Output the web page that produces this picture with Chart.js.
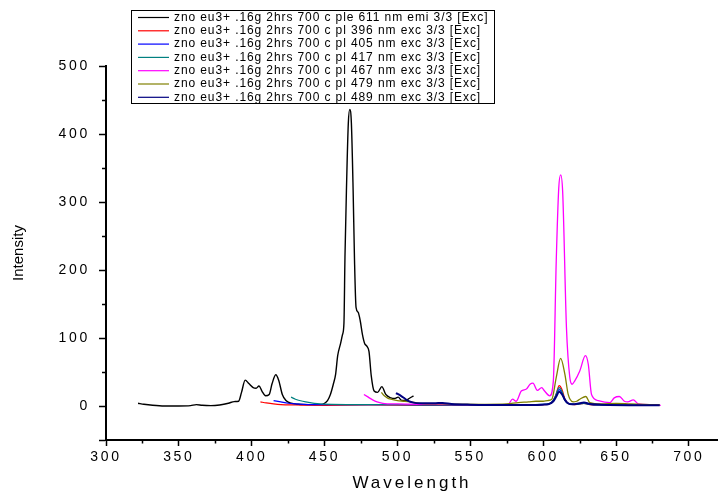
<!DOCTYPE html>
<html>
<head>
<meta charset="utf-8">
<title>Espectros ZnO:Eu3+</title>
<script src="https://cdn.jsdelivr.net/npm/chart.js@4.4.1/dist/chart.umd.min.js"></script>
<style>
  body { margin: 0; background: #ffffff; }
  canvas { display: block; }
</style>
</head>
<body>
<canvas id="espectrosChart" width="718" height="498"></canvas>
<script>
// Emisión monitoreada a 611 nm
const onda611 = [322, 326, 332, 340, 350, 358, 362, 366, 372, 378, 384, 388, 391, 393, 395.5, 398, 401, 403, 405, 407,
    409.5, 412, 414, 416.5, 418.5, 421, 423.5, 427, 432, 440, 447, 450, 452, 454, 456, 457.6, 459, 461, 462.3, 463.3,
    464, 465, 466.3, 467.3, 468.4, 469.6, 470.5, 471.6, 473, 474.5, 476, 477.5, 479, 480.5, 482, 484, 486.4, 489.3, 492, 495.5,
    498, 500.5, 503, 505.5, 508, 511];
const inten611 = [4, 2.5, 1, 0, 0, 0.5, 2, 1, 0.5, 1.5, 4, 6.5, 7, 20, 38, 33, 27, 26, 29.5, 22,
    15, 17, 33, 46, 38, 17, 8, 4, 2.5, 2, 2, 4, 8, 17, 32, 47, 74, 92, 105, 122,
    219, 317, 416, 436, 416, 317, 219, 145, 138, 125, 105, 92, 88, 80, 45, 22, 20, 28.5, 17, 12,
    11, 13, 8, 8, 11, 15];

// Excitación a 396 nm
const onda396 = [406, 410, 415, 420, 430, 450, 480, 520, 560, 590, 600, 604, 607, 609, 611, 613, 615, 618, 622, 628, 632, 645, 660, 680];
const inten396 = [6, 4.5, 3, 2, 1.5, 1, 1.5, 1, 1, 1.5, 2, 3, 8, 18, 30, 24, 10, 3, 2, 4, 2, 1.5, 1.5, 1];

// Excitación a 405 nm
const onda405 = [415, 420, 425, 430, 440, 460, 500, 540, 580, 600, 605, 608, 611, 613, 615, 618, 622, 628, 632, 650, 680];
const inten405 = [8, 6, 4, 3, 2, 2, 2, 1.5, 1.5, 2.5, 4, 12, 24, 19, 8, 3, 2.5, 4.5, 2.5, 1.5, 1];

// Excitación a 417 nm
const onda417 = [427, 430, 435, 440, 445, 455, 500, 540, 580, 600, 605, 608, 611, 613, 615, 618, 622, 628, 632, 650, 680];
const inten417 = [13, 10, 7, 5, 3.5, 2.5, 2, 1.5, 1.5, 2.5, 4, 12, 27, 21, 8, 3, 2.5, 4, 2.5, 1.5, 1];

// Excitación a 467 nm
const onda467 = [477, 480, 483, 486, 490, 500, 520, 550, 570, 576, 579, 581.5, 585, 588.5, 591, 593, 596, 599, 601, 604.5,
    607, 609, 610.7, 612, 613.4, 616, 618.3, 619.9, 621.7, 625.2, 629, 631, 633.2, 637.8, 645.8, 648.8, 652.3, 655.7, 658, 661.9,
    665.3, 674.5, 680.7];
const inten467 = [17, 13, 9, 6, 4, 3, 2.5, 2, 2, 2.5, 10, 7, 22, 25, 32, 33.5, 23, 27, 22, 15,
    37, 214, 320, 340, 315, 115, 42, 32, 37, 52, 74, 61, 17, 8, 5, 12, 14, 7, 6, 9,
    3, 2, 1];

// Excitación a 479 nm
const onda479 = [489, 491, 493, 495.5, 500, 505, 509, 515, 530, 560, 575, 583, 590, 595, 600, 603, 606, 609, 612, 614.9,
    617.2, 620.6, 623, 625.2, 629.3, 632, 640, 650, 660, 680];
const inten479 = [20, 15, 12, 10, 8, 7, 6, 4, 3, 2.5, 3, 5, 6, 7, 7, 8, 10, 42, 70, 47,
    17, 6, 7, 10, 14, 5, 3, 4, 3, 1.5];

// Excitación a 489 nm
const onda489 = [499, 502.4, 505, 507, 511, 515, 525, 531, 537, 550, 580, 600, 604, 607, 609, 611, 613, 615, 617, 620, 625, 628, 632, 640, 680];
const inten489 = [19, 15, 11, 8, 5, 4, 4, 4.5, 3, 2, 1.5, 2, 3, 7, 14, 21, 17, 9, 4, 2.5, 4, 5, 3, 2, 1];

const etiquetas = [
    'zno eu3+ .16g 2hrs 700 c ple 611 nm emi 3/3 [Exc]',
    'zno eu3+ .16g 2hrs 700 c pl 396 nm exc 3/3 [Exc]',
    'zno eu3+ .16g 2hrs 700 c pl 405 nm exc 3/3 [Exc]',
    'zno eu3+ .16g 2hrs 700 c pl 417 nm exc 3/3 [Exc]',
    'zno eu3+ .16g 2hrs 700 c pl 467 nm exc 3/3 [Exc]',
    'zno eu3+ .16g 2hrs 700 c pl 479 nm exc 3/3 [Exc]',
    'zno eu3+ .16g 2hrs 700 c pl 489 nm exc 3/3 [Exc]'
];

const colores = [
    '#000000',  // 611 emi
    '#FF0000',  // 396
    '#0000FF',  // 405
    '#008080',  // 417
    '#FF00FF',  // 467
    '#808000',  // 479
    '#000080'   // 489
];

const grosores = [1.4, 1.2, 1.2, 1.2, 1.3, 1.3, 2];

const fuente = 'Arial, "Liberation Sans", sans-serif';

const series = [
    [onda611, inten611], [onda396, inten396], [onda405, inten405], [onda417, inten417],
    [onda467, inten467], [onda479, inten479], [onda489, inten489]
];

// envuelve un método de dibujo de la escala con espaciado entre letras
function conEspaciado(fn, espacio) {
    return function (...args) {
        const ctx = this.ctx;
        const previo = ctx.letterSpacing;
        ctx.letterSpacing = espacio;
        fn.apply(this, args);
        ctx.letterSpacing = previo;
    };
}

const espaciado = {
    id: 'espaciado',
    beforeDraw(chart) {
        const { x, y } = chart.scales;
        if (x._espaciado) return;
        x.drawLabels = conEspaciado(x.drawLabels, '2.7px');
        y.drawLabels = conEspaciado(y.drawLabels, '2.7px');
        x.drawTitle = conEspaciado(x.drawTitle, '3px');
        x._espaciado = true;
    }
};

// marcas menores de los ejes (más cortas que las mayores)
const marcasMenores = {
    id: 'marcasMenores',
    afterDraw(chart) {
        const { x, y } = chart.scales;
        const area = chart.chartArea;
        const ctx = chart.ctx;
        ctx.save();
        ctx.strokeStyle = '#000';
        ctx.lineWidth = 1.5;
        ctx.beginPath();
        for (let v = 50; v < 500; v += 100) {
            const py = Math.round(y.getPixelForValue(v)) + 0.5;
            ctx.moveTo(area.left - 4, py);
            ctx.lineTo(area.left, py);
        }
        for (let v = 325; v < 700; v += 50) {
            const px = Math.round(x.getPixelForValue(v)) + 0.5;
            ctx.moveTo(px, area.bottom);
            ctx.lineTo(px, area.bottom + 3.5);
        }
        ctx.stroke();
        ctx.restore();
    }
};

// leyenda con recuadro, encima del gráfico
const leyendaCaja = {
    id: 'leyendaCaja',
    afterDraw(chart) {
        const ctx = chart.ctx;
        const x0 = 131, y0 = 10, ancho = 363, alto = 93;
        ctx.save();
        ctx.fillStyle = '#ffffff';
        ctx.fillRect(x0, y0, ancho, alto);
        ctx.strokeStyle = '#000';
        ctx.lineWidth = 1;
        ctx.strokeRect(x0 + 0.5, y0 + 0.5, ancho, alto);
        ctx.font = '12px ' + fuente;
        ctx.letterSpacing = '0.9px';
        ctx.textBaseline = 'middle';
        chart.data.datasets.forEach((ds, i) => {
            const y = y0 + 7.5 + i * 13.3;
            ctx.strokeStyle = ds.borderColor;
            ctx.lineWidth = 1.2;
            ctx.beginPath();
            ctx.moveTo(138, y);
            ctx.lineTo(169, y);
            ctx.stroke();
            ctx.fillStyle = '#000';
            ctx.fillText(ds.label, 174, y);
        });
        ctx.restore();
    }
};

document.addEventListener("DOMContentLoaded", function () {
    const ctx = document.getElementById('espectrosChart').getContext('2d');

    new Chart(ctx, {
        type: 'line',
        data: {
            datasets: series.map((s, i) => ({
                label: etiquetas[i],
                data: s[0].map((nm, k) => ({ x: nm, y: s[1][k] })),
                borderColor: colores[i],
                backgroundColor: colores[i],
                borderWidth: grosores[i],
                pointRadius: 0,
                cubicInterpolationMode: 'monotone',
                fill: false,
                order: series.length - i
            }))
        },
        options: {
            responsive: false,
            devicePixelRatio: 1,
            animation: false,
            layout: { padding: { top: 66, left: 0, right: 0, bottom: 0 } },
            plugins: {
                legend: { display: false },
                tooltip: { enabled: false }
            },
            scales: {
                x: {
                    type: 'linear',
                    min: 300,
                    max: 720,
                    afterFit: (escala) => { escala.height = 58; },
                    border: { display: true, color: '#000', width: 2 },
                    grid: {
                        drawOnChartArea: false,
                        drawTicks: true,
                        tickLength: 6,
                        tickWidth: 1.5,
                        tickColor: (c) => (c.tick && c.tick.value % 50 === 0) ? '#000' : 'rgba(0,0,0,0)'
                    },
                    ticks: {
                        stepSize: 25,
                        includeBounds: false,
                        autoSkip: false,
                        maxRotation: 0,
                        padding: 3,
                        color: '#000',
                        font: { family: fuente, size: 14 },
                        callback: (v) => v % 50 === 0 ? v : ''
                    },
                    title: {
                        display: true,
                        text: 'Wavelength',
                        color: '#000',
                        font: { family: fuente, size: 17 },
                        padding: { top: 0, bottom: 4 }
                    }
                },
                y: {
                    type: 'linear',
                    min: -50,
                    max: 500,
                    afterFit: (escala) => { escala.width = 106; },
                    border: { display: true, color: '#000', width: 2 },
                    grid: {
                        drawOnChartArea: false,
                        drawTicks: true,
                        tickLength: 7,
                        tickWidth: 1.5,
                        tickColor: (c) => (c.tick && (c.tick.value % 100 === 0 || c.tick.value === -50)) ? '#000' : 'rgba(0,0,0,0)'
                    },
                    ticks: {
                        stepSize: 50,
                        autoSkip: false,
                        padding: 9,
                        color: '#000',
                        font: { family: fuente, size: 14 },
                        callback: (v) => v % 100 === 0 ? v : ''
                    },
                    title: {
                        display: true,
                        text: 'Intensity',
                        color: '#000',
                        font: { family: fuente, size: 15 },
                        padding: { top: 10, bottom: 0 }
                    }
                }
            }
        },
        plugins: [espaciado, marcasMenores, leyendaCaja]
    });
});
</script>
</body>
</html>
